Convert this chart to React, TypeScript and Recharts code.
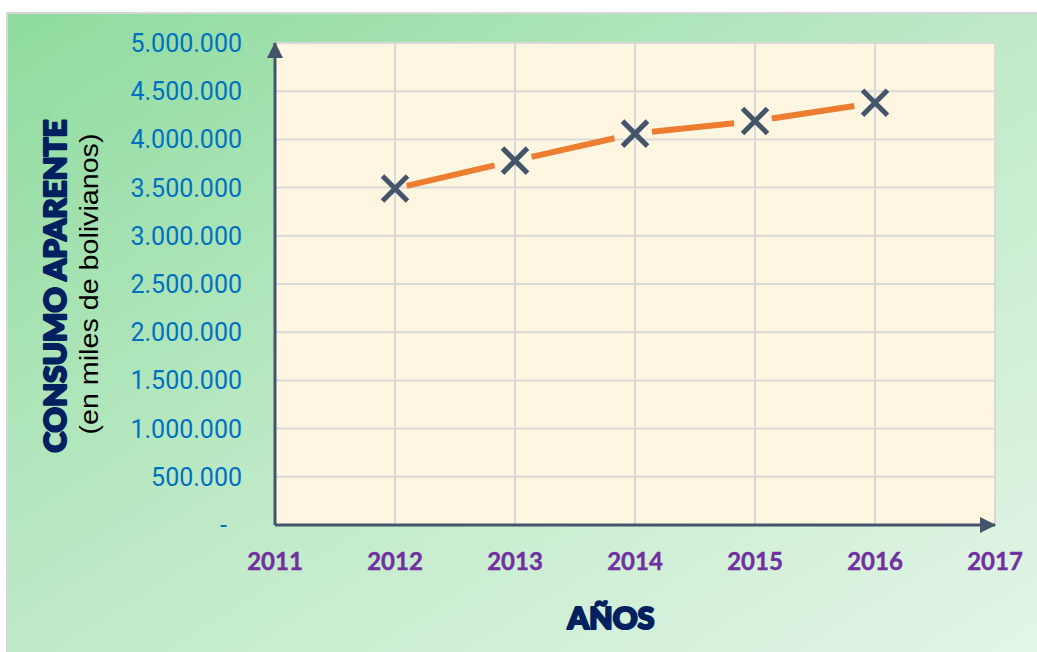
import { LineChart, Line, XAxis, YAxis, CartesianGrid } from 'recharts';

const years = [2012, 2013, 2014, 2015, 2016];
const consumo = [3490000, 3780000, 4060000, 4190000, 4380000];
const xTicks = [2011, 2012, 2013, 2014, 2015, 2016, 2017];
const yTicks = [0, 500000, 1000000, 1500000, 2000000, 2500000, 3000000, 3500000, 4000000, 4500000, 5000000];

const data = years.map((y, i) => ({ year: y, consumo: consumo[i] }));

const fmt = (v: number) => String(v).replace(/\B(?=(\d{3})+(?!\d))/g, '.');

// X marker + the line segment towards the next point, leaving a gap around markers
const XMark = (props: any) => {
  const { cx, cy, index, points } = props;
  const next = points && points[index + 1];
  let seg = null;
  if (next) {
    const dx = next.x - cx;
    const dy = next.y - cy;
    const len = Math.hypot(dx, dy);
    const ux = dx / len;
    const uy = dy / len;
    const g0 = index === 0 ? 12 : 17;
    const g1 = 21;
    seg = (
      <line
        x1={cx + ux * g0}
        y1={cy + uy * g0}
        x2={next.x - ux * g1}
        y2={next.y - uy * g1}
        stroke="#ed7d31"
        strokeWidth={6}
      />
    );
  }
  const a = 12.5;
  return (
    <g key={`m-${index}`}>
      {seg}
      <path
        d={`M${cx - a},${cy - a}L${cx + a},${cy + a}M${cx - a},${cy + a}L${cx + a},${cy - a}`}
        stroke="#44546a"
        strokeWidth={5}
        fill="none"
      />
    </g>
  );
};

const YTick = ({ x, y, payload }: any) => (
  <text
    x={payload.value === 0 ? x - 15 : x}
    y={y}
    dy={9}
    textAnchor="end"
    fill="#0070c0"
    fontSize={25}
    fontFamily="Roboto, sans-serif"
  >
    {payload.value === 0 ? '-' : fmt(payload.value)}
  </text>
);

const XTick = ({ x, y, payload }: any) => (
  <text
    x={x}
    y={y}
    textAnchor="middle"
    fill="#7030a0"
    fontSize={24}
    fontWeight={700}
    fontFamily="Lato, sans-serif"
    stroke="#7030a0"
    strokeWidth={0.4}
  >
    {payload.value}
  </text>
);

export default function App() {
  return (
    <div
      style={{
        position: 'absolute',
        left: 6,
        top: 12,
        width: 1031,
        height: 640,
        overflow: 'hidden',
        borderLeft: '2px solid #d6d6d6',
        borderTop: '2px solid #d6d6d6',
        background: 'linear-gradient(to bottom right, #8edb9e 0%, #bfeac8 50%, #e3f5e7 100%)',
      }}
    >
      <LineChart
        width={1029}
        height={638}
        data={data}
        margin={{ top: 29, right: 42, bottom: 0, left: 0 }}
      >
        <defs>
          <marker
            id="arrow"
            viewBox="0 0 16 16"
            refX="15"
            refY="8"
            markerWidth="16"
            markerHeight="16"
            markerUnits="userSpaceOnUse"
            orient="auto-start-reverse"
          >
            <path d="M0,0 L16,8 L0,16 z" fill="#44546a" />
          </marker>
        </defs>
        <CartesianGrid
          stroke="#d9d9d9"
          strokeWidth={2}
          fill="#fff6e2"
          fillOpacity={1}
          horizontalValues={yTicks}
          verticalValues={xTicks}
        />
        <XAxis
          dataKey="year"
          type="number"
          domain={[2011, 2017]}
          ticks={xTicks}
          height={127}
          tickSize={0}
          tickMargin={45}
          tick={<XTick />}
          axisLine={{ stroke: '#44546a', strokeWidth: 3, markerEnd: 'url(#arrow)' }}
        />
        <YAxis
          type="number"
          domain={[0, 5000000]}
          ticks={yTicks}
          width={267}
          tickSize={0}
          tickMargin={33}
          tick={<YTick />}
          axisLine={{ stroke: '#44546a', strokeWidth: 3, markerStart: 'url(#arrow)' }}
        />
        <Line
          dataKey="consumo"
          stroke="none"
          dot={<XMark />}
          activeDot={false}
          isAnimationActive={false}
        />
      </LineChart>
      <svg
        width={1029}
        height={638}
        style={{ position: 'absolute', left: 0, top: 0, pointerEvents: 'none' }}
      >
        <text
          transform="translate(58,272) rotate(-90)"
          textAnchor="middle"
          fill="#002060"
          stroke="#002060"
          strokeWidth={2.2}
          strokeLinejoin="round"
          fontSize={30}
          fontWeight={900}
          fontFamily="Lato, sans-serif"
          textLength={333}
          lengthAdjust="spacingAndGlyphs"
        >
          CONSUMO APARENTE
        </text>
        <text
          transform="translate(90,270) rotate(-90)"
          textAnchor="middle"
          fill="#000000"
          fontSize={26}
          fontFamily="'Liberation Sans', Arial, sans-serif"
          textLength={301}
          lengthAdjust="spacingAndGlyphs"
        >
          (en miles de bolivianos)
        </text>
        <text
          x={603}
          y={615}
          textAnchor="middle"
          fill="#002060"
          stroke="#002060"
          strokeWidth={2.2}
          strokeLinejoin="round"
          fontSize={31}
          fontWeight={900}
          fontFamily="Lato, sans-serif"
          textLength={87}
          lengthAdjust="spacingAndGlyphs"
        >
          AÑOS
        </text>
      </svg>
    </div>
  );
}
